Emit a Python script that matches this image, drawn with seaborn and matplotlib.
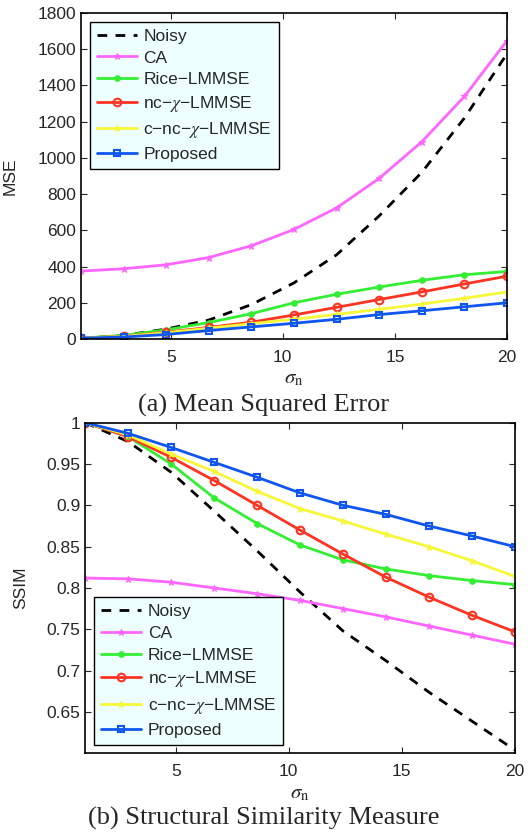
import numpy as np
import pandas as pd
import matplotlib
matplotlib.use('Agg')
import matplotlib.pyplot as plt
import seaborn as sns

sns.set_theme(style='ticks')
plt.rcParams['font.family'] = ['Liberation Sans', 'DejaVu Sans']
plt.rcParams['mathtext.fontset'] = 'stix'

# sigma_n sample points
sigma = [1, 2.9, 4.8, 6.7, 8.6, 10.5, 12.4, 14.3, 16.2, 18.1, 20]

# (a) MSE
mse_noisy = [3, 20, 55, 105, 190, 310, 465, 680, 920, 1220, 1575]
mse_ca = [375, 388, 410, 450, 515, 605, 724, 887, 1089, 1339, 1647]
mse_rice = [5, 20, 51, 91, 140, 200, 247, 287, 324, 355, 373]
mse_ncchi = [5, 15, 38, 64, 93, 133, 175, 218, 260, 304, 347]
mse_cncchi = [5, 14, 35, 60, 85, 109, 136, 164, 193, 225, 260]
mse_prop = [5, 11, 25, 47, 67, 87, 109, 135, 156, 178, 200]

# (b) SSIM
ssim_noisy = [1.0, 0.977, 0.940, 0.893, 0.845, 0.795, 0.748, 0.712, 0.674, 0.639, 0.604]
ssim_ca = [0.812, 0.811, 0.807, 0.800, 0.793, 0.785, 0.775, 0.765, 0.754, 0.743, 0.732]
ssim_rice = [1.0, 0.983, 0.950, 0.909, 0.878, 0.852, 0.834, 0.823, 0.815, 0.809, 0.804]
ssim_ncchi = [1.0, 0.983, 0.958, 0.930, 0.900, 0.870, 0.841, 0.813, 0.789, 0.767, 0.747]
ssim_cncchi = [1.0, 0.985, 0.962, 0.941, 0.917, 0.896, 0.881, 0.865, 0.850, 0.833, 0.814]
ssim_prop = [1.0, 0.987, 0.970, 0.952, 0.934, 0.915, 0.900, 0.889, 0.875, 0.863, 0.850]

names = ['Noisy', 'CA', 'Rice\u2212LMMSE', 'nc\u2212$\\chi$\u2212LMMSE',
         'c\u2212nc\u2212$\\chi$\u2212LMMSE', 'Proposed']

# line styles per method
styles = [
    dict(color='black', linestyle=(0, (3.5, 3)), marker=None),
    dict(color='#FF66FF', linestyle='-', marker='*', markersize=5, markeredgewidth=0.8),
    dict(color='#33EE33', linestyle='-', marker='o', markersize=4),
    dict(color='#FF3322', linestyle='-', marker='o', markersize=5.5,
         markerfacecolor='none', markeredgewidth=1.5),
    dict(color='#F7F73A', linestyle='-', marker='*', markersize=5, markeredgewidth=0.8),
    dict(color='#0F55EE', linestyle='-', marker='s', markersize=5,
         markerfacecolor='none', markeredgewidth=1.5),
]


def draw(ax, series):
    for name, vals, st in zip(names, series, styles):
        df = pd.DataFrame({'sigma': sigma, 'val': vals})
        kw = dict(st)
        if kw['marker'] is None:
            kw.pop('marker')
        if 'marker' in kw:
            kw['markeredgecolor'] = kw['color']
        sns.lineplot(data=df, x='sigma', y='val', ax=ax, label=name,
                     linewidth=2, **kw)
    ax.set_xlim(1, 20)
    ax.set_xticks([5, 10, 15, 20])
    ax.tick_params(direction='in', top=True, right=True, labelsize=12.5,
                   length=4, width=0.8)
    ax.tick_params(axis='x', pad=8)
    for s in ax.spines.values():
        s.set_linewidth(1.2)
        s.set_color('black')
    ax.set_xlabel(r'$\sigma_{\mathrm{n}}$', fontsize=15, labelpad=3)


fig = plt.figure(figsize=(5.28, 8.33), dpi=100)
ax1 = fig.add_axes([0.1534, 0.593, 0.8068, 0.3914])
ax2 = fig.add_axes([0.1616, 0.0957, 0.8133, 0.3969])

draw(ax1, [mse_noisy, mse_ca, mse_rice, mse_ncchi, mse_cncchi, mse_prop])
ax1.set_ylim(0, 1800)
ax1.set_yticks(range(0, 1801, 200))
ax1.set_ylabel('MSE', fontsize=12.5)
ax1.yaxis.set_label_coords(-0.148, 0.5)

draw(ax2, [ssim_noisy, ssim_ca, ssim_rice, ssim_ncchi, ssim_cncchi, ssim_prop])
ax2.set_ylim(0.6, 1.0)
yt = [0.65, 0.7, 0.75, 0.8, 0.85, 0.9, 0.95, 1.0]
ax2.set_yticks(yt)
ax2.set_yticklabels(['0.65', '0.7', '0.75', '0.8', '0.85', '0.9', '0.95', '1'])
ax2.set_ylabel('SSIM', fontsize=12.5)
ax2.yaxis.set_label_coords(-0.133, 0.5)

for ax, loc, anchor in [(ax1, 'upper left', (0.0, 1.0)), (ax2, 'lower left', (0.0, 0.0))]:
    leg = ax.legend(loc=loc, bbox_to_anchor=anchor, fontsize=12.5, frameon=True,
                    fancybox=False, framealpha=1, facecolor='#EEFFFF',
                    edgecolor='black', handlelength=2.3, handletextpad=0.4,
                    labelspacing=0.38, borderpad=0.4, borderaxespad=0.5)
    leg.get_frame().set_linewidth(1.0)

fig.text(0.5, 1 - 405 / 833, '(a) Mean Squared Error', ha='center', va='center',
         family='Liberation Serif', fontsize=19)
fig.text(0.5, 1 - 818 / 833, '(b) Structural Similarity Measure', ha='center',
         va='center', family='Liberation Serif', fontsize=19)

fig.savefig('out.png', dpi=100)
